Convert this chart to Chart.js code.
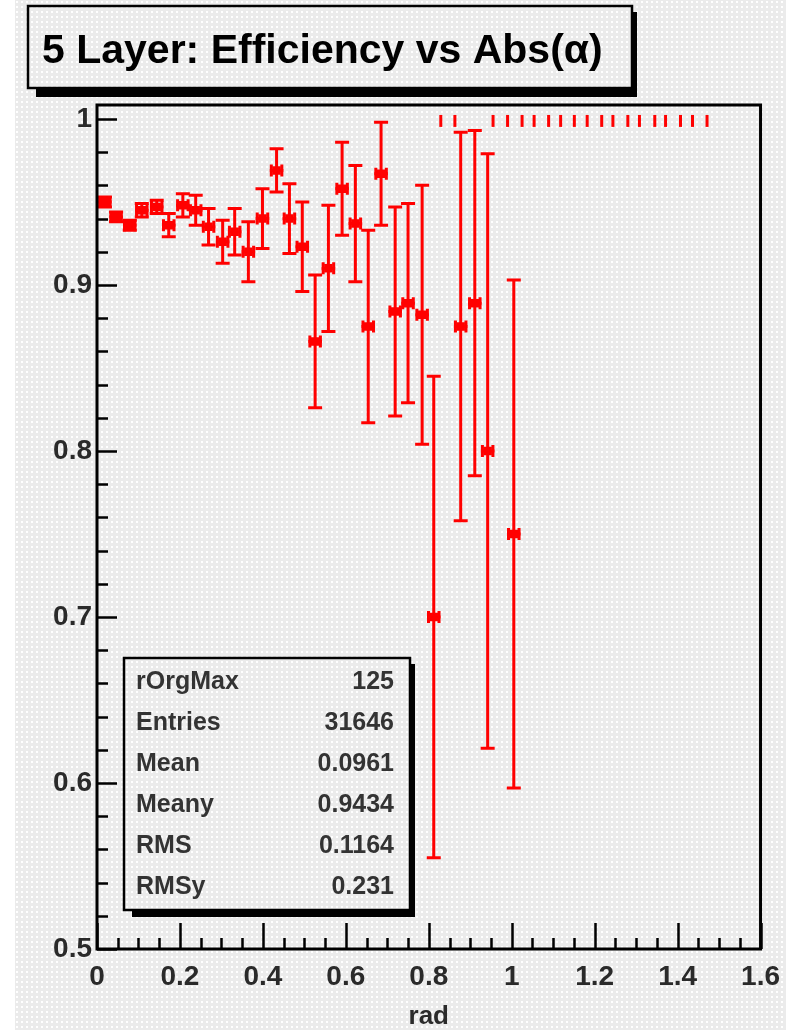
<!DOCTYPE html>
<html>
<head>
<meta charset="utf-8">
<script src="https://cdn.jsdelivr.net/npm/chart.js@4.4.1/dist/chart.umd.min.js"></script>
<style>
html, body { margin: 0; padding: 0; background: #fff; }
canvas { display: block; }
</style>
</head>
<body>
<canvas id="chart" width="791" height="1030"></canvas>
<script>
// bin centres (rad) and efficiency
const binX = [0.019, 0.046, 0.079, 0.108, 0.144, 0.173, 0.207, 0.238, 0.269, 0.303,
              0.332, 0.365, 0.399, 0.433, 0.464, 0.495, 0.526, 0.558, 0.591, 0.623,
              0.654, 0.685, 0.719, 0.750, 0.784, 0.812, 0.877, 0.911, 0.942, 1.005];
const effY = [0.950, 0.941, 0.936, 0.945, 0.947, 0.936, 0.948, 0.945, 0.935, 0.926,
              0.932, 0.920, 0.940, 0.969, 0.940, 0.923, 0.866, 0.910, 0.958, 0.937,
              0.875, 0.967, 0.884, 0.889, 0.882, 0.700, 0.875, 0.889, 0.800, 0.750];
const effErr = [0.003, 0.003, 0.003, 0.004, 0.004, 0.007, 0.007, 0.009, 0.011, 0.013,
                0.014, 0.018, 0.018, 0.013, 0.021, 0.027, 0.040, 0.038, 0.028, 0.035,
                0.058, 0.031, 0.063, 0.060, 0.078, 0.145, 0.117, 0.104, 0.179, 0.153];
const binHalf = 0.0163;

// short bars near 1 with no marker
const dashX = [0.829, 0.863, 0.955, 0.990, 1.025, 1.054, 1.089, 1.118, 1.151, 1.182,
               1.217, 1.244, 1.280, 1.308, 1.345, 1.371, 1.407, 1.436, 1.471];
const dashY = [0.9988, 0.9988, 0.9988, 0.9988, 0.9988, 0.9988, 0.9988, 0.9988, 0.9988, 0.9988,
               0.9988, 0.9988, 0.9988, 0.9988, 0.9988, 0.9988, 0.9988, 0.9988, 0.9988];
const dashErr = [0.0036, 0.0036, 0.0036, 0.0036, 0.0036, 0.0036, 0.0036, 0.0036, 0.0036, 0.0036,
                 0.0036, 0.0036, 0.0036, 0.0036, 0.0036, 0.0036, 0.0036, 0.0036, 0.0036];

const statNames = ['rOrgMax', 'Entries', 'Mean', 'Meany', 'RMS', 'RMSy'];
const statValues = ['125', '31646', '0.0961', '0.9434', '0.1164', '0.231'];

const titleText = '5 Layer: Efficiency vs Abs(\u03b1)';
const RED = '#ff0000';
const FONT = '"Liberation Sans", Arial, Helvetica, sans-serif';

function makePattern(ctx) {
    const c = document.createElement('canvas');
    c.width = 5; c.height = 5;
    const g = c.getContext('2d');
    g.fillStyle = '#ebebeb';
    g.fillRect(0, 0, 5, 5);
    g.fillStyle = '#ffffff';
    g.fillRect(1, 1, 2, 2);
    return ctx.createPattern(c, 'repeat');
}

function box(ctx, x0, y0, x1, y1, shR, shB, bg) {
    ctx.fillStyle = '#000';
    ctx.fillRect(x1, y0 + 6, shR, y1 - y0 - 6 + shB);
    ctx.fillRect(x0 + 8, y1, x1 - x0 - 8 + shR, shB);
    ctx.fillStyle = bg;
    ctx.fillRect(x0, y0, x1 - x0, y1 - y0);
    ctx.strokeStyle = '#000';
    ctx.lineWidth = 2.5;
    ctx.strokeRect(x0, y0, x1 - x0, y1 - y0);
}

const rootStyle = {
    id: 'rootStyle',
    beforeDraw(chart) {
        const ctx = chart.ctx;
        ctx.save();
        ctx.fillStyle = '#ffffff';
        ctx.fillRect(0, 0, chart.width, chart.height);
        chart.$bg = chart.$bg || makePattern(ctx);
        ctx.fillStyle = chart.$bg;
        ctx.fillRect(15, 0, 771, chart.height);
        ctx.restore();
    },
    beforeDatasetsDraw(chart) {
        const ctx = chart.ctx;
        const xs = chart.scales.x, ys = chart.scales.y;
        ctx.save();
        ctx.strokeStyle = RED;
        ctx.lineCap = 'butt';
        chart.data.datasets.forEach(ds => {
            ds.data.forEach((p, i) => {
                const px = xs.getPixelForValue(p.x);
                const top = ys.getPixelForValue(p.y + ds.yErr[i]);
                const bot = ys.getPixelForValue(p.y - ds.yErr[i]);
                ctx.lineWidth = 3;
                ctx.beginPath();
                ctx.moveTo(px, top); ctx.lineTo(px, bot);
                if (ds.caps) {
                    ctx.moveTo(px - 7, top); ctx.lineTo(px + 7, top);
                    ctx.moveTo(px - 7, bot); ctx.lineTo(px + 7, bot);
                }
                ctx.stroke();
                if (ds.xErr) {
                    const py = ys.getPixelForValue(p.y);
                    const l = xs.getPixelForValue(p.x - ds.xErr);
                    const r = xs.getPixelForValue(p.x + ds.xErr);
                    ctx.beginPath();
                    ctx.moveTo(l, py); ctx.lineTo(r, py);
                    ctx.stroke();
                    ctx.beginPath();
                    ctx.moveTo(l + 1.5, py - 6); ctx.lineTo(l + 1.5, py + 6);
                    ctx.moveTo(r - 1.5, py - 6); ctx.lineTo(r - 1.5, py + 6);
                    ctx.stroke();
                }
            });
        });
        ctx.restore();
    },
    afterDraw(chart) {
        const ctx = chart.ctx;
        const a = chart.chartArea;
        const xs = chart.scales.x, ys = chart.scales.y;
        ctx.save();

        // ticks, inside the frame
        ctx.strokeStyle = '#000';
        ctx.lineWidth = 2.5;
        ctx.beginPath();
        for (let v = 0; v <= 1.6001; v += 0.05) {
            const px = Math.round(xs.getPixelForValue(v)) + 0.5;
            const major = Math.abs(v / 0.2 - Math.round(v / 0.2)) < 1e-6;
            ctx.moveTo(px, a.bottom);
            ctx.lineTo(px, a.bottom - (major ? 26 : 11));
        }
        for (let v = 0.5; v <= 1.0001; v += 0.02) {
            const py = Math.round(ys.getPixelForValue(v)) + 0.5;
            const major = Math.abs(v / 0.1 - Math.round(v / 0.1)) < 1e-6;
            ctx.moveTo(a.left, py);
            ctx.lineTo(a.left + (major ? 20 : 11), py);
        }
        ctx.stroke();

        // frame
        ctx.lineWidth = 3;
        ctx.strokeRect(a.left, a.top, a.right - a.left, a.bottom - a.top);

        // stats box
        box(ctx, 124, 658, 410, 910, 5, 7, chart.$bg);
        ctx.font = 'bold 25px ' + FONT;
        ctx.fillStyle = '#333';
        ctx.textBaseline = 'middle';
        statNames.forEach((n, i) => {
            const y = 682 + i * 41;
            ctx.textAlign = 'left';
            ctx.fillText(n, 136, y);
            ctx.textAlign = 'right';
            ctx.fillText(statValues[i], 394, y);
        });

        // title box
        box(ctx, 28, 6, 632, 88, 5, 9, chart.$bg);
        ctx.font = 'bold 41px ' + FONT;
        ctx.fillStyle = '#000';
        ctx.textAlign = 'left';
        ctx.textBaseline = 'alphabetic';
        ctx.fillText(titleText, 42, 63);
        ctx.restore();
    }
};

const tickFont = { family: FONT, size: 28, weight: 'bold' };
const fmt = v => String(Math.round(v * 10) / 10);

new Chart(document.getElementById('chart'), {
    type: 'scatter',
    data: {
        datasets: [{
            label: 'efficiency',
            data: binX.map((x, i) => ({ x: x, y: effY[i] })),
            yErr: effErr,
            xErr: binHalf,
            caps: true,
            pointStyle: 'rect',
            pointRadius: 6,
            pointBackgroundColor: RED,
            pointBorderWidth: 0
        }, {
            label: 'full',
            data: dashX.map((x, i) => ({ x: x, y: dashY[i] })),
            yErr: dashErr,
            caps: false,
            pointRadius: 0
        }]
    },
    options: {
        responsive: false,
        animation: false,
        events: [],
        layout: { padding: { left: 0, top: 105, right: 28, bottom: 0 } },
        plugins: { legend: { display: false }, tooltip: { enabled: false } },
        scales: {
            x: {
                type: 'linear',
                min: 0,
                max: 1.6,
                afterFit: s => { s.height = 81; },
                grid: { display: false, drawTicks: false },
                border: { display: false },
                ticks: { stepSize: 0.2, padding: 11, color: '#2a2a2a', font: tickFont, maxRotation: 0, callback: fmt },
                title: {
                    display: true, text: 'rad', color: '#2a2a2a',
                    font: { family: FONT, size: 26, lineHeight: 1, weight: 'bold' },
                    padding: { top: 0, bottom: 0 }
                }
            },
            y: {
                type: 'linear',
                min: 0.5,
                max: 1.0084,
                afterFit: s => { s.width = 97; },
                grid: { display: false, drawTicks: false },
                border: { display: false },
                ticks: { stepSize: 0.1, includeBounds: false, padding: 5, color: '#2a2a2a', font: tickFont, callback: fmt }
            }
        }
    },
    plugins: [rootStyle]
});
</script>
</body>
</html>
